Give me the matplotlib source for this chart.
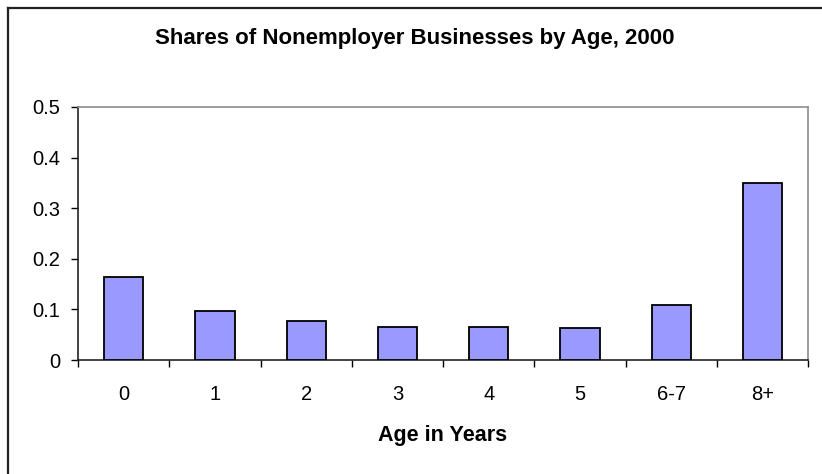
import matplotlib.pyplot as plt
from matplotlib.lines import Line2D

plt.rcParams['font.family'] = ['Liberation Sans', 'DejaVu Sans']

ages = ['0', '1', '2', '3', '4', '5', '6-7', '8+']
shares = [0.165, 0.097, 0.078, 0.066, 0.066, 0.063, 0.109, 0.349]

fig = plt.figure(figsize=(8.22, 4.74), dpi=100)
ax = fig.add_axes([0.0949, 0.2405, 0.8881, 0.5338])

pos = list(range(len(ages)))
ax.bar(pos, shares, width=0.43, color='#9999FF', edgecolor='black', linewidth=1.3, zorder=3)

ax.set_xlim(-0.5, len(ages) - 0.5)
ax.set_ylim(0, 0.5)
ax.set_yticks([0, 0.1, 0.2, 0.3, 0.4, 0.5])
ax.set_yticklabels(['0', '0.1', '0.2', '0.3', '0.4', '0.5'])

# category boundaries as major ticks, labels on minor ticks at centres
ax.set_xticks([p - 0.5 for p in pos] + [len(ages) - 0.5])
ax.set_xticklabels([])
ax.set_xticks(pos, minor=True)
ax.set_xticklabels(ages, minor=True)
ax.tick_params(axis='x', which='major', direction='out', length=5, width=1, color='black')
ax.tick_params(axis='x', which='minor', length=0, pad=18, labelsize=14.5)
ax.tick_params(axis='y', direction='out', length=5, width=1, pad=8, labelsize=14.5)

for s in ['left', 'bottom']:
    ax.spines[s].set_color('#222222')
    ax.spines[s].set_linewidth(1.2)
for s in ['top', 'right']:
    ax.spines[s].set_color('#8c8c8c')
    ax.spines[s].set_linewidth(1.2)

ax.set_xlabel('Age in Years', fontsize=15.5, fontweight='bold', labelpad=15)
fig.text(0.505, 0.918, 'Shares of Nonemployer Businesses by Age, 2000',
         ha='center', va='center', fontsize=16, fontweight='bold')

# outer chart border (only left and top visible in the crop)
x0 = 7.5 / 822
y0 = 1 - 7.5 / 474
fig.add_artist(Line2D([x0, x0], [0, y0], color='#222222', lw=1.6))
fig.add_artist(Line2D([x0, 1], [y0, y0], color='#222222', lw=1.6))

plt.savefig('out.png', dpi=100)
